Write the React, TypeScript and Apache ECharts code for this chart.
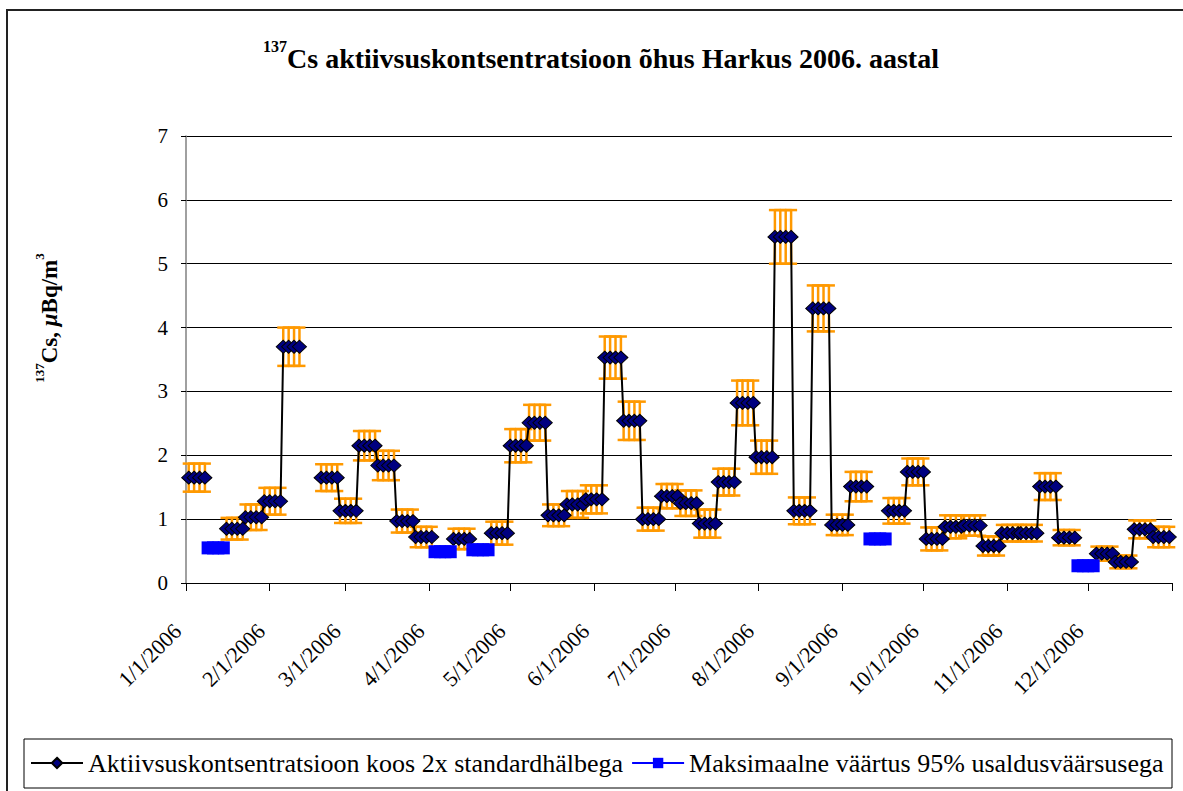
import React, { useEffect, useRef } from "react";
import * as echarts from "echarts";

// ---- DATA ----
// Weekly sampling periods, first one starting Jan 2 2006 (day 1 of year), 52 weeks.
const firstWeekStartDay = 1;
const daysPerWeek = 7;
const pointOffsets = [0, 2, 4, 6]; // plotted points within each sampling week

const activity: (number | null)[] = [
  1.65, null, 0.85, 1.03, 1.28, 3.7, null, 1.65, 1.13, 2.15,
  1.84, 0.97, 0.72, null, 0.69, null, 0.78, 2.15, 2.51, 1.06,
  1.23, 1.31, 3.53, 2.54, 1.0, 1.36, 1.25, 0.93, 1.58, 2.82,
  1.97, 5.42, 1.13, 4.3, 0.91, 1.51, null, 1.13, 1.74, 0.69,
  0.88, 0.9, 0.58, 0.78, 0.78, 1.51, 0.71, null, 0.46, 0.33,
  0.84, 0.72,
];
const twoSigma: (number | null)[] = [
  0.22, null, 0.17, 0.2, 0.21, 0.3, null, 0.21, 0.19, 0.23,
  0.23, 0.18, 0.16, null, 0.16, null, 0.18, 0.26, 0.28, 0.17,
  0.21, 0.22, 0.33, 0.3, 0.18, 0.19, 0.2, 0.22, 0.21, 0.35,
  0.26, 0.42, 0.21, 0.36, 0.16, 0.23, null, 0.2, 0.21, 0.18,
  0.18, 0.16, 0.15, 0.13, 0.13, 0.21, 0.12, null, 0.11, 0.1,
  0.14, 0.16,
];
const maxValue95: (number | null)[] = [
  null, 0.55, null, null, null, null, null, null, null, null,
  null, null, null, 0.49, null, 0.52, null, null, null, null,
  null, null, null, null, null, null, null, null, null, null,
  null, null, null, null, null, null, 0.69, null, null, null,
  null, null, null, null, null, null, null, 0.27, null, null,
  null, null,
];

const monthStartDays = [0, 31, 59, 90, 120, 151, 181, 212, 243, 273, 304, 334];
const monthLabels = [
  "1/1/2006", "2/1/2006", "3/1/2006", "4/1/2006", "5/1/2006", "6/1/2006",
  "7/1/2006", "8/1/2006", "9/1/2006", "10/1/2006", "11/1/2006", "12/1/2006",
];
const yearEndDay = 365;
const yTicks = [0, 1, 2, 3, 4, 5, 6, 7];

const seriesName1 = "Aktiivsuskontsentratsioon koos 2x standardhälbega";
const seriesName2 = "Maksimaalne väärtus 95% usaldusväärsusega";

function buildLine(values: (number | null)[]) {
  const out: any[] = [];
  values.forEach((v, k) => {
    const start = firstWeekStartDay + k * daysPerWeek;
    if (v == null) {
      if (out.length && out[out.length - 1] !== null) out.push(null);
      return;
    }
    pointOffsets.forEach((o) => out.push([start + o, v]));
  });
  return out.map((p) => (p === null ? [null, null] : p));
}

function buildErrors() {
  const out: number[][] = [];
  activity.forEach((v, k) => {
    const e = twoSigma[k];
    if (v == null || e == null) return;
    const start = firstWeekStartDay + k * daysPerWeek;
    pointOffsets.forEach((o) => out.push([start + o, v, e]));
  });
  return out;
}

const SERIF = "Liberation Serif";

export default function App() {
  const ref = useRef<HTMLDivElement>(null);
  useEffect(() => {
    if (!ref.current) return;
    const chart = echarts.init(ref.current, undefined, { renderer: "svg" });
    const option: any = {
      animation: false,
      backgroundColor: "#fff",
      textStyle: { fontFamily: SERIF },
      grid: { left: 186, right: 11, top: 136, bottom: 208, containLabel: false },
      xAxis: {
        type: "value",
        min: 0,
        max: yearEndDay,
        axisLine: { show: true, lineStyle: { color: "#000", width: 1 } },
        axisTick: {
          show: true,
          length: 8,
          customValues: [...monthStartDays, yearEndDay],
          lineStyle: { color: "#000" },
        },
        axisLabel: {
          customValues: monthStartDays,
          rotate: 45,
          margin: 36,
          padding: [0, 12, 0, 0],
          fontFamily: SERIF,
          fontSize: 22,
          color: "#000",
          formatter: (v: number) => {
            const i = monthStartDays.indexOf(Math.round(v));
            return i >= 0 ? monthLabels[i] : "";
          },
        },
        splitLine: { show: false },
      },
      yAxis: {
        type: "value",
        min: yTicks[0],
        max: yTicks[yTicks.length - 1],
        interval: 1,
        axisLine: { show: true, lineStyle: { color: "#808080", width: 1.5 } },
        axisTick: { show: true, length: 5, lineStyle: { color: "#000" } },
        axisLabel: { margin: 18, fontFamily: SERIF, fontSize: 21, color: "#000" },
        splitLine: { show: true, lineStyle: { color: "#000", width: 1 } },
      },
      legend: {
        data: [seriesName1, seriesName2],
        left: 25,
        top: 745,
        itemWidth: 52,
        itemHeight: 13,
        itemGap: 8,
        textStyle: { fontFamily: SERIF, fontSize: 26, color: "#000" },
      },
      series: [
        {
          type: "custom",
          z: 1,
          silent: true,
          data: buildErrors(),
          encode: { x: 0, y: 1 },
          renderItem: (params: any, api: any) => {
            const x = api.value(0);
            const y = api.value(1);
            const e = api.value(2);
            const hi = api.coord([x, y + e]);
            const lo = api.coord([x, y - e]);
            const hw = 6;
            const style = { stroke: "#FF9900", lineWidth: 2.5 };
            return {
              type: "group",
              children: [
                { type: "line", shape: { x1: hi[0], y1: hi[1], x2: lo[0], y2: lo[1] }, style },
                { type: "line", shape: { x1: hi[0] - hw, y1: hi[1], x2: hi[0] + hw, y2: hi[1] }, style },
                { type: "line", shape: { x1: lo[0] - hw, y1: lo[1], x2: lo[0] + hw, y2: lo[1] }, style },
              ],
            };
          },
        },
        {
          name: seriesName1,
          type: "line",
          z: 3,
          data: buildLine(activity),
          symbol: "diamond",
          symbolSize: [14, 13],
          showSymbol: true,
          connectNulls: false,
          lineStyle: { color: "#000", width: 2 },
          itemStyle: { color: "#000080", borderColor: "#000", borderWidth: 1 },
        },
        {
          name: seriesName2,
          type: "line",
          z: 3,
          data: buildLine(maxValue95),
          symbol: "rect",
          symbolSize: [12, 13],
          showSymbol: true,
          connectNulls: false,
          lineStyle: { color: "#0000FF", width: 2 },
          itemStyle: { color: "#0000FF" },
        },
      ],
      graphic: [
        {
          type: "rect",
          silent: true,
          shape: { x: 7, y: 10, width: 1200, height: 800 },
          style: { fill: "none", stroke: "#222", lineWidth: 2 },
        },
        {
          type: "rect",
          silent: true,
          shape: { x: 24, y: 739, width: 1148, height: 49 },
          style: { fill: "none", stroke: "#000", lineWidth: 1 },
        },
        {
          type: "text",
          x: 601,
          y: 58,
          style: {
            text: "{s|137}{t|Cs aktiivsuskontsentratsioon õhus Harkus 2006. aastal}",
            align: "center",
            verticalAlign: "middle",
            textAlign: "center",
            textVerticalAlign: "middle",
            rich: {
              s: { fontFamily: SERIF, fontWeight: "bold", fontSize: 16, verticalAlign: "top", fill: "#000", color: "#000" },
              t: { fontFamily: SERIF, fontWeight: "bold", fontSize: 28, lineHeight: 40, fill: "#000", color: "#000" },
            },
          },
        },
        {
          type: "text",
          x: 49,
          y: 318,
          rotation: Math.PI / 2,
          style: {
            text: "{s|137}{b|Cs, }{m|μ}{b|Bq/m}{s|3}",
            align: "center",
            verticalAlign: "middle",
            textAlign: "center",
            textVerticalAlign: "middle",
            rich: {
              s: { fontFamily: SERIF, fontWeight: "bold", fontSize: 13, verticalAlign: "top", fill: "#000", color: "#000" },
              b: { fontFamily: SERIF, fontWeight: "bold", fontSize: 23, lineHeight: 33, fill: "#000", color: "#000" },
              m: { fontFamily: SERIF, fontWeight: "bold", fontStyle: "italic", fontSize: 23, lineHeight: 33, fill: "#000", color: "#000" },
            },
          },
        },
      ],
    };
    chart.setOption(option);
    return () => chart.dispose();
  }, []);
  return (
    <div
      ref={ref}
      style={{ position: "fixed", left: 0, top: 0, width: 1183, height: 791, background: "#fff" }}
    />
  );
}
